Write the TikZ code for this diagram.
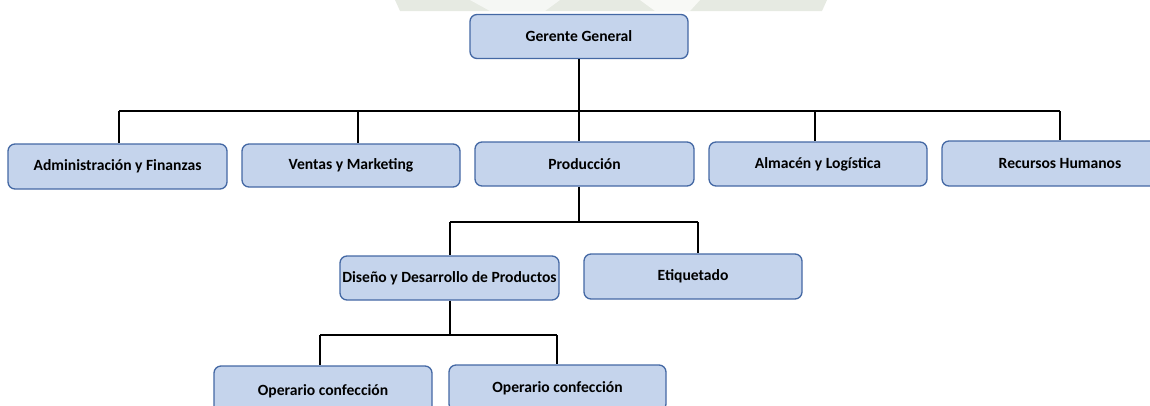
\documentclass[tikz,border=0pt]{standalone}
\usepackage{fontspec}
\setmainfont{Carlito}
\definecolor{boxfill}{RGB}{197,212,236}
\definecolor{boxdraw}{RGB}{68,104,164}
\definecolor{wm}{RGB}{230,234,226}
\begin{document}
\begin{tikzpicture}[x=1pt,y=-1pt,
  orgbox/.style={draw=boxdraw,fill=boxfill,line width=1.3pt,rounded corners=7pt,
    minimum height=44pt,inner sep=1pt,font=\fontsize{15.6}{17}\selectfont\bfseries,text=black},
  link/.style={draw=black,line width=1.8pt}]
\useasboundingbox (0,0) rectangle (1150,405);
\clip (0,0) rectangle (1150,405);
% faint watermark remnant at the top edge
\fill[wm] (395,0) -- (827,0) -- (822,11) -- (400,11) -- cycle;
\fill[white!60!wm] (470,0) -- (560,0) -- (545,11) -- (490,11) -- cycle;
\fill[white!70!wm] (640,0) -- (700,0) -- (690,11) -- (655,11) -- cycle;
% nodes
\node[orgbox,minimum width=218pt] (gg) at (579,36.5) {Gerente General};
\node[orgbox,minimum width=219pt,minimum height=45pt] (adm) at (117.5,166.5) {Administración y Finanzas};
\node[orgbox,minimum width=218pt,minimum height=43pt] (ven) at (351,165.5) {Ventas y Marketing};
\node[orgbox,minimum width=219pt] (pro) at (584.5,164) {Producción};
\node[orgbox,minimum width=218pt] (alm) at (818,164) {Almacén y Logística};
\node[orgbox,minimum width=236pt,minimum height=45pt] (rrhh) at (1060,163.5) {Recursos Humanos};
\node[orgbox,minimum width=219pt] (dis) at (449.5,278) {Diseño y Desarrollo de Productos};
\node[orgbox,minimum width=218pt,minimum height=45pt] (eti) at (693,276.5) {Etiquetado};
\node[orgbox,minimum width=218pt,minimum height=50pt] (op1) at (323,391) {Operario confección};
\node[orgbox,minimum width=217pt,minimum height=46pt] (op2) at (557.5,388) {Operario confección};
% bus coordinates
\coordinate (b1) at (579,111);
\coordinate (b1l) at (119,111);
\coordinate (b1v) at (358,111);
\coordinate (b1a) at (815,111);
\coordinate (b1r) at (1060,111);
\coordinate (b2) at (579,222);
\coordinate (b2l) at (450,222);
\coordinate (b2r) at (698,222);
\coordinate (b3) at (450,335);
\coordinate (b3l) at (320,335);
\coordinate (b3r) at (557,335);
% connectors
\draw[link] (gg.south -| b1) -- (b1);
\draw[link] (b1l) -- (b1r);
\draw[link] (b1l) -- (b1l |- adm.north);
\draw[link] (b1v) -- (b1v |- ven.north);
\draw[link] (b1) -- (b1 |- pro.north);
\draw[link] (b1a) -- (b1a |- alm.north);
\draw[link] (b1r) -- (b1r |- rrhh.north);
\draw[link] (pro.south -| b2) -- (b2);
\draw[link] (b2l) -- (b2r);
\draw[link] (b2l) -- (b2l |- dis.north);
\draw[link] (b2r) -- (b2r |- eti.north);
\draw[link] (dis.south -| b3) -- (b3);
\draw[link] (b3l) -- (b3r);
\draw[link] (b3l) -- (b3l |- op1.north);
\draw[link] (b3r) -- (b3r |- op2.north);
\end{tikzpicture}
\end{document}
